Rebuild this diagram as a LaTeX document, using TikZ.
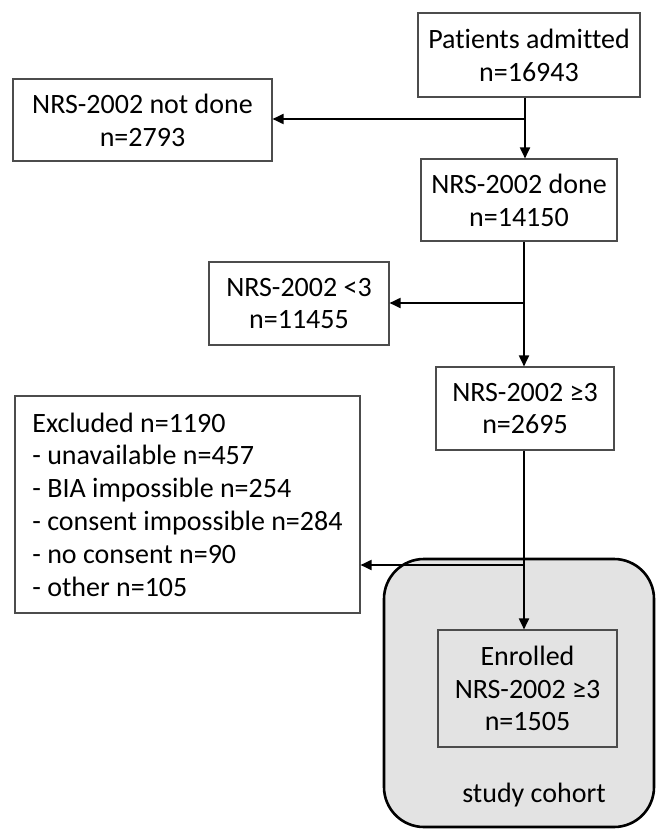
\documentclass[tikz,border=0pt]{standalone}
\usepackage{fontspec}
\setmainfont{Carlito}[Ligatures={NoCommon}]
\usetikzlibrary{arrows.meta,calc}
\begin{document}
\begin{tikzpicture}[x=1pt,y=-1pt,
  txt/.style={font=\fontsize{28}{32.8}\selectfont},
  box/.style={txt, draw=black!70, line width=1.1pt, align=center, inner sep=0pt},
  arr/.style={line width=1.8pt, -{Triangle[length=11pt,width=10pt]}}]
\useasboundingbox (0,0) rectangle (656,829);
% cohort container
\node[draw=black, line width=2.6pt, fill=black!11, rounded corners=40pt,
  minimum width=270pt, minimum height=268pt, inner sep=0pt] (cohort) at (519,693) {};
\node[txt] (cohlab) at (534,795) {study cohort};
% boxes
\node[box, fill=white, minimum width=222pt, minimum height=84pt] (pa) at (529,55) {Patients admitted\\n=16943};
\node[box, fill=white, minimum width=259pt, minimum height=82pt] (nd) at (142.5,120) {NRS-2002 not done\\n=2793};
\node[box, fill=white, minimum width=196pt, minimum height=82pt] (done) at (519,200) {NRS-2002 done\\n=14150};
\node[box, fill=white, minimum width=180pt, minimum height=83pt] (lt) at (299,303.5) {NRS-2002 <3\\n=11455};
\node[box, fill=white, minimum width=178pt, minimum height=83pt] (ge) at (525,408.5) {NRS-2002 ≥3\\n=2695};
\node[box, fill=white, align=left, minimum width=345pt, minimum height=217pt] (ex) at (187.5,504.5)
  {Excluded n=1190\\- unavailable n=457\\- BIA impossible n=254\\- consent impossible n=284\\- no consent n=90\\- other n=105};
\node[box, minimum width=179pt, minimum height=117pt] (enr) at (527.5,688.5) {Enrolled\\NRS-2002 ≥3\\n=1505};
% branch points
\coordinate (b1) at (525,119);
\coordinate (b2) at (524,303);
\coordinate (b3) at (524,565);
% connectors
\draw[arr] (pa.south -| b1) -- (done.north -| b1);
\draw[arr] (b1) -- (nd.east |- b1);
\draw[arr] (done.south -| b2) -- (ge.north -| b2);
\draw[arr] (b2) -- (lt.east |- b2);
\draw[arr] (ge.south -| b3) -- (enr.north -| b3);
\draw[arr] (b3) -- (ex.east |- b3);
\end{tikzpicture}
\end{document}
